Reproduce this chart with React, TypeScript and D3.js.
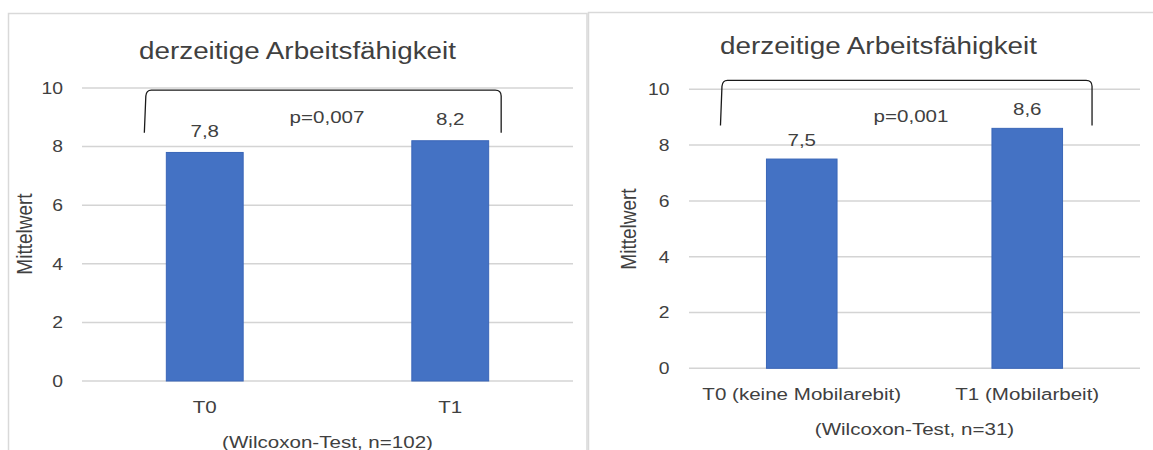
import React from "react";
import * as d3 from "d3";

// Chart content
const chartTitle = "derzeitige Arbeitsfähigkeit";
const yAxisTitle = "Mittelwert";
const yTicks = [0, 2, 4, 6, 8, 10];

const leftCategories = ["T0", "T1"];
const leftValues = [7.8, 8.2];
const leftPValue = "p=0,007";
const leftNote = "(Wilcoxon-Test, n=102)";

const rightCategories = ["T0 (keine Mobilarebit)", "T1 (Mobilarbeit)"];
const rightValues = [7.5, 8.6];
const rightPValue = "p=0,001";
const rightNote = "(Wilcoxon-Test, n=31)";

// Visual constants
const FONT = "'Liberation Sans', Arial, sans-serif";
const TEXT = "#404040";
const GRID = "#d4d4d4";
const FRAME = "#d9d9d9";
const BAR = "#4472c4";
const BAR_EDGE = "#3a66b8";
const SX = 1.21; // horizontal glyph stretch

type Layout = {
  frame: { x: number; y: number; w: number; h: number };
  x0: number;
  x1: number;
  yTop: number;
  yBottom: number;
  titleX: number;
  titleY: number;
  tickRight: number;
  yTitleX: number;
  yTitleY: number;
  labelGap: number;
  pX: number;
  pY: number;
  bracket: { left: number; right: number; top: number; bottom: number };
};

const leftLayout: Layout = {
  frame: { x: 8.5, y: 13.5, w: 578.5, h: 500 },
  x0: 82,
  x1: 573,
  yTop: 88,
  yBottom: 381,
  titleX: 297.5,
  titleY: 58.5,
  tickRight: 63,
  yTitleX: 32,
  yTitleY: 234,
  labelGap: 15.5,
  pX: 327,
  pY: 123,
  bracket: { left: -22, right: 12.5, top: 9.93, bottom: 8.47 },
};

const rightLayout: Layout = {
  frame: { x: 588.5, y: 12.5, w: 700, h: 500 },
  x0: 689,
  x1: 1140,
  yTop: 89.3,
  yBottom: 368.3,
  titleX: 878.5,
  titleY: 53.5,
  tickRight: 669.5,
  yTitleX: 636,
  yTitleY: 229,
  labelGap: 13.5,
  pX: 911,
  pY: 121.7,
  bracket: { left: -46, right: 29.5, top: 10.32, bottom: 8.7 },
};

const fmt = (v: number) => d3.format(".1f")(v).replace(".", ",");

function StretchText({
  x,
  y,
  size,
  anchor = "middle",
  rotate = 0,
  children,
}: {
  x: number;
  y: number;
  size: number;
  anchor?: "start" | "middle" | "end";
  rotate?: number;
  children: React.ReactNode;
}) {
  return (
    <text
      transform={`translate(${x},${y}) scale(${SX},1) rotate(${rotate})`}
      fontFamily={FONT}
      fontSize={size}
      fill={TEXT}
      textAnchor={anchor}
    >
      {children}
    </text>
  );
}

function Panel({
  layout,
  categories,
  values,
  pValue,
  note,
}: {
  layout: Layout;
  categories: string[];
  values: number[];
  pValue: string;
  note: string;
}) {
  const pad = 0.687;
  const x = d3
    .scaleBand<string>()
    .domain(categories)
    .range([layout.x0, layout.x1])
    .paddingInner(pad)
    .paddingOuter(pad / 2);
  const y = d3.scaleLinear().domain([0, 10]).range([layout.yBottom, layout.yTop]);

  const b = layout.bracket;
  const bl = (x(categories[0]) ?? 0) + b.left;
  const br = (x(categories[categories.length - 1]) ?? 0) + x.bandwidth() + b.right;
  const bt = y(b.top);
  const bb = y(b.bottom);
  const r = 6;
  const bracketPath = [
    `M${bl},${bb}`,
    `L${bl + 1.5},${bt + r}`,
    `Q${bl + 2},${bt} ${bl + r + 1},${bt}`,
    `L${br - r},${bt}`,
    `Q${br},${bt} ${br},${bt + r}`,
    `L${br},${bb}`,
  ].join(" ");

  const f = layout.frame;

  return (
    <g>
      <rect x={f.x} y={f.y} width={f.w} height={f.h} fill="#fff" stroke={FRAME} strokeWidth={1.5} />
      <StretchText x={layout.titleX} y={layout.titleY} size={23}>
        {chartTitle}
      </StretchText>
      {yTicks.map((t) => (
        <g key={t}>
          <line x1={layout.x0} x2={layout.x1} y1={y(t)} y2={y(t)} stroke={GRID} strokeWidth={1.5} />
          <StretchText x={layout.tickRight} y={y(t) + 5.8} size={16} anchor="end">
            {t}
          </StretchText>
        </g>
      ))}
      <StretchText x={layout.yTitleX} y={layout.yTitleY} size={19} rotate={-90}>
        {yAxisTitle}
      </StretchText>
      {categories.map((c, i) => (
        <g key={c}>
          <rect
            x={x(c)}
            y={y(values[i])}
            width={x.bandwidth()}
            height={y(0) - y(values[i])}
            fill={BAR}
            stroke={BAR_EDGE}
            strokeWidth={1}
          />
          <StretchText x={(x(c) ?? 0) + x.bandwidth() / 2} y={y(values[i]) - layout.labelGap} size={17}>
            {fmt(values[i])}
          </StretchText>
          <StretchText x={(x(c) ?? 0) + x.bandwidth() / 2} y={y(0) + 32} size={17}>
            {c}
          </StretchText>
        </g>
      ))}
      <path d={bracketPath} fill="none" stroke="#1a1a1a" strokeWidth={1.3} />
      <StretchText x={layout.pX} y={layout.pY} size={17}>
        {pValue}
      </StretchText>
      <StretchText x={(layout.x0 + layout.x1) / 2} y={y(0) + 66.5} size={17}>
        {note}
      </StretchText>
    </g>
  );
}

export default function App() {
  return (
    <svg
      width={1153}
      height={450}
      style={{ position: "absolute", left: 0, top: 0, background: "#fff" }}
    >
      <rect width={1153} height={450} fill="#fff" />
      <Panel layout={leftLayout} categories={leftCategories} values={leftValues} pValue={leftPValue} note={leftNote} />
      <Panel
        layout={rightLayout}
        categories={rightCategories}
        values={rightValues}
        pValue={rightPValue}
        note={rightNote}
      />
    </svg>
  );
}
